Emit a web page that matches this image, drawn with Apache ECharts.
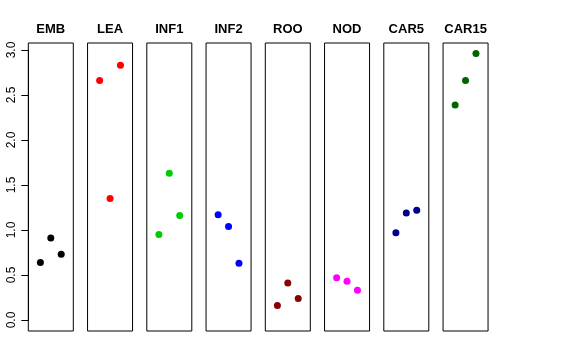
<!DOCTYPE html>
<html><head><meta charset="utf-8">
<script src="https://cdn.jsdelivr.net/npm/echarts@6/dist/echarts.min.js"></script>
<style>html,body{margin:0;padding:0;background:#fff}#c{width:576px;height:360px}</style>
</head><body><div id="c"></div>
<script>
const categories = ['EMB', 'LEA', 'INF1', 'INF2', 'ROO', 'NOD', 'CAR5', 'CAR15'];
const xPositions = [1, 2, 3];
const EMB = [0.64, 0.91, 0.73];
const LEA = [2.66, 1.35, 2.83];
const INF1 = [0.95, 1.63, 1.16];
const INF2 = [1.17, 1.04, 0.63];
const ROO = [0.16, 0.41, 0.24];
const NOD = [0.47, 0.43, 0.33];
const CAR5 = [0.97, 1.19, 1.22];
const CAR15 = [2.39, 2.66, 2.96];
const yTickLabels = ['0.0', '0.5', '1.0', '1.5', '2.0', '2.5', '3.0'];

const seriesValues = [EMB, LEA, INF1, INF2, ROO, NOD, CAR5, CAR15];
const colors = ['#000000', '#ff0000', '#00cd00', '#0000ff', '#8b0000', '#ff00ff', '#00008b', '#006400'];

const panelLeft0 = 28.3, pitch = 59.25, panelW = 45, panelTop = 43, panelH = 288;
const font = '"Liberation Sans", Arial, Helvetica, sans-serif';

const grids = [], xAxes = [], yAxes = [], series = [], graphics = [];
categories.forEach((cat, i) => {
  const left = panelLeft0 + pitch * i;
  grids.push({left: left, top: panelTop, width: panelW, height: panelH, show: true,
    borderColor: '#000', borderWidth: 1, backgroundColor: 'transparent'});
  xAxes.push({gridIndex: i, type: 'value', min: -0.16, max: 4.16, show: false});
  yAxes.push({gridIndex: i, type: 'value', min: -0.122, max: 3.078, show: false});
  series.push({type: 'scatter', xAxisIndex: i, yAxisIndex: i, symbol: 'circle', symbolSize: 7,
    itemStyle: {color: colors[i], opacity: 1}, silent: true,
    data: xPositions.map((x, k) => [x, seriesValues[i][k]])});
  graphics.push({type: 'text', x: left + panelW / 2, y: 29.5,
    style: {text: cat, font: 'bold 13px ' + font, fill: '#000', textAlign: 'center', textVerticalAlign: 'middle'}});
});
// shared y axis (labels/ticks)
grids.push({left: panelLeft0, top: 50, width: panelW, height: 270, show: false});
xAxes.push({gridIndex: 8, type: 'value', min: 0, max: 1, show: false});
yAxes.push({gridIndex: 8, type: 'value', min: 0, max: 3, interval: 0.5,
  axisLine: {show: true, lineStyle: {color: '#000', width: 1}},
  axisTick: {show: true, length: 7, lineStyle: {color: '#000', width: 1}},
  splitLine: {show: false},
  axisLabel: {show: true, rotate: 90, margin: 11, color: '#000', fontSize: 12, fontFamily: font,
    formatter: (v) => yTickLabels[Math.round(v / 0.5)]}});

const chart = echarts.init(document.getElementById('c'), null, {renderer: 'canvas'});
chart.setOption({animation: false, grid: grids, xAxis: xAxes, yAxis: yAxes, series: series, graphic: graphics});
</script></body></html>
